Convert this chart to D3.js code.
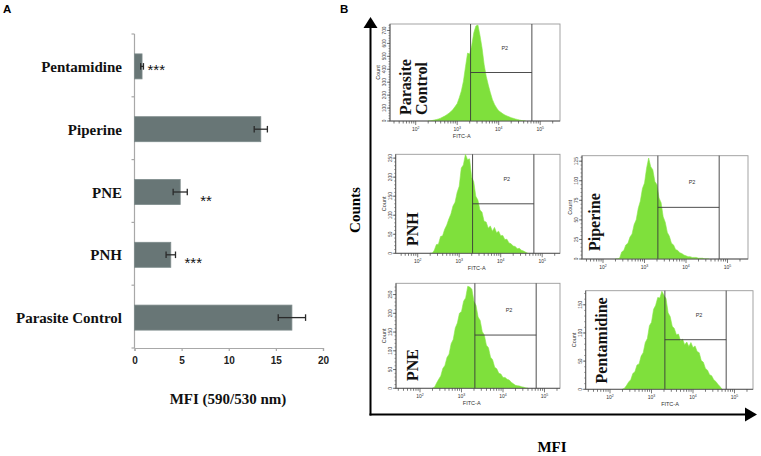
<!DOCTYPE html>
<html><head><meta charset="utf-8">
<script src="https://cdn.jsdelivr.net/npm/d3@7"></script>
<style>body{margin:0;background:#fff}svg{display:block}</style>
</head><body>
<script>
// ---------- Panel A data ----------
const categories = ["Pentamidine", "Piperine", "PNE", "PNH", "Parasite Control"];
const mfiValues = [0.8, 13.4, 4.85, 3.85, 16.7];
const mfiErrors = [0.15, 0.7, 0.75, 0.5, 1.45];
const significance = ["***", "", "**", "***", ""];
const xTicksA = [0, 5, 10, 15, 20];

// ---------- Panel B data ----------
const histNames = [["Parasite", "Control"], ["PNH"], ["Piperine"], ["PNE"], ["Pentamidine"]];
const histLogStart = 2.3, histLogStep = 0.05;
const countsControl = [0,0,4,8,11,16,22,30,38,49,60,73,90,112,135,180,232,308,420,525,518,585,682,735,742,660,562,435,345,278,218,165,128,101,79,68,56,46,39,32,26,21,16,12,8,4,2,0];
const countsPNH = [0,0,8,23,24,44,46,63,74,90,103,124,134,160,176,224,232,260,246,248,200,188,150,140,114,108,84,82,66,72,58,68,54,58,46,47,36,37,27,25,19,18,12,13,8,6,3,0];
const countsPiperine = [0,0,1,9,11,18,20,28,32,44,50,65,74,90,97,116,129,118,114,99,95,78,72,54,47,34,29,20,18,12,11,8,7,5,4,3,3,2,2,2,1,1,1,0,0,0];
const countsPNE = [0,3,14,24,33,53,61,82,91,119,130,161,174,200,205,232,241,272,270,264,232,221,190,181,151,142,115,108,83,76,56,52,40,38,29,29,24,22,16,12,8,7,6,4,3,1,0];
const countsPentamidine = [0,2,7,13,17,28,31,43,45,59,65,83,90,113,119,142,149,163,162,174,167,161,136,129,112,108,97,98,86,89,79,84,76,83,74,77,67,65,51,48,37,34,26,24,17,14,9,5,0];
const histCounts = [countsControl, countsPNH, countsPiperine, countsPNE, countsPentamidine];
const countMax = [750, 260, 132, 280, 175];
const countTicks = [[0,100,200,300,400,500,600,700],[0,50,100,150,200,250],[0,25,50,75,100,125],[0,50,100,150,200,250],[0,50,100,150]];
const gateLow = 2100, gateHigh = 63000;
const gateCount = [375, 130, 66, 142, 88];
const decadeTicks = [100, 1000, 10000, 100000];
const decadeExp = ["2", "3", "4", "5"];
const showFitc = [true, true, false, true, true];

// ---------- layout ----------
const W = 761, H = 456;
const svg = d3.select("body").append("svg").attr("width", W).attr("height", H);
const serif = "'Liberation Serif','Times New Roman',serif";
const sans = "'Liberation Sans',Arial,sans-serif";

// ===== Panel A =====
svg.append("text").attr("x", 3).attr("y", 13).text("A")
  .attr("font-family", sans).attr("font-weight", "bold").attr("font-size", 11.5);

const xA = d3.scaleLinear().domain([0, 20]).range([134.5, 323]);
const yA = d3.scaleBand().domain(categories).range([34, 348]).paddingInner(0.6).paddingOuter(0.3);
const axisCol = "#a8a8a8";
const gA = svg.append("g");

gA.append("line").attr("x1", xA(0)).attr("x2", xA(0)).attr("y1", 34).attr("y2", 348)
  .attr("stroke", axisCol).attr("stroke-width", 1.2);
const bounds = d3.range(categories.length + 1).map(i => 34 + i * (314 / categories.length));
gA.selectAll(".ytk").data(bounds).enter().append("line")
  .attr("x1", xA(0) - 3).attr("x2", xA(0)).attr("y1", d => d).attr("y2", d => d)
  .attr("stroke", axisCol).attr("stroke-width", 1.2);

const xAxisA = d3.axisBottom(xA).tickValues(xTicksA).tickSize(3).tickPadding(6);
const gx = gA.append("g").attr("transform", "translate(0,348)").call(xAxisA);
gx.select(".domain").attr("stroke", axisCol).attr("stroke-width", 1.2);
gx.selectAll(".tick line").attr("stroke", axisCol).attr("stroke-width", 1.2);
gx.selectAll(".tick text").attr("font-family", sans).attr("font-weight", "bold")
  .attr("font-size", 10).attr("fill", "#222");

const barH = 25;
const barY = d => yA(d) + yA.bandwidth() / 2 - barH / 2 + 1;
gA.selectAll(".bar").data(categories).enter().append("rect")
  .attr("x", xA(0)).attr("y", d => barY(d))
  .attr("width", (d, i) => xA(mfiValues[i]) - xA(0)).attr("height", barH)
  .attr("fill", "#687676").attr("stroke", "#7d8a8a").attr("stroke-width", 0.8);

categories.forEach((c, i) => {
  const cy = barY(c) + barH / 2;
  const lo = xA(mfiValues[i] - mfiErrors[i]), hi = xA(mfiValues[i] + mfiErrors[i]);
  const g = gA.append("g").attr("stroke", "#2a2a2a").attr("stroke-width", 1.3);
  g.append("line").attr("x1", lo).attr("x2", hi).attr("y1", cy).attr("y2", cy);
  g.append("line").attr("x1", lo).attr("x2", lo).attr("y1", cy - 3.3).attr("y2", cy + 3.3);
  g.append("line").attr("x1", hi).attr("x2", hi).attr("y1", cy - 3.3).attr("y2", cy + 3.3);
});

const sigGap = [4, 0, 13, 9, 0], sigDy = [0, 0, 5, 5, 0];
categories.forEach((c, i) => {
  if (!significance[i]) return;
  const cy = barY(c) + barH / 2 + sigDy[i];
  gA.append("text").attr("x", xA(mfiValues[i] + mfiErrors[i]) + sigGap[i]).attr("y", cy + 8.5)
    .text(significance[i]).attr("font-family", sans)
    .attr("font-size", 15).attr("fill", "#111");
});

gA.selectAll(".cat").data(categories).enter().append("text")
  .attr("x", 122).attr("y", d => barY(d) + barH / 2 + 5.5).attr("text-anchor", "end")
  .text(d => d).attr("font-family", serif).attr("font-weight", "bold").attr("font-size", 15).attr("fill", "#111");

gA.append("text").attr("x", 228).attr("y", 404).attr("text-anchor", "middle")
  .text("MFI (590/530 nm)").attr("font-family", serif).attr("font-weight", "bold").attr("font-size", 15).attr("fill", "#111");

// ===== Panel B =====
svg.append("text").attr("x", 340).attr("y", 13).text("B")
  .attr("font-family", sans).attr("font-weight", "bold").attr("font-size", 11.5);

const axX = 370.5, axY = 414.5;
svg.append("line").attr("x1", axX).attr("x2", axX).attr("y1", axY + 1).attr("y2", 26)
  .attr("stroke", "#000").attr("stroke-width", 2);
svg.append("path").attr("d", `M${axX - 7},28 L${axX},17 L${axX + 7},28 Z`).attr("fill", "#000");
svg.append("line").attr("x1", axX - 1).attr("x2", 747).attr("y1", axY).attr("y2", axY)
  .attr("stroke", "#000").attr("stroke-width", 2);
svg.append("path").attr("d", `M745,${axY - 7} L757,${axY} L745,${axY + 7} Z`).attr("fill", "#000");
svg.append("text").attr("transform", "translate(360,210) rotate(-90)").attr("text-anchor", "middle")
  .text("Counts").attr("font-family", serif).attr("font-weight", "bold").attr("font-size", 15);
svg.append("text").attr("x", 552).attr("y", 452).attr("text-anchor", "middle")
  .text("MFI").attr("font-family", serif).attr("font-weight", "bold").attr("font-size", 15);

const histLayout = [
  {x0: 390, x1: 560, y0: 24, y1: 121, d2: 415.7, lab: [411, 427], labY: 115, fx: 461.7},
  {x0: 395.7, x1: 560, y0: 154.3, y1: 253.3, d2: 417.7, lab: [417.5], labY: 246, fx: 476.7},
  {x0: 582, x1: 748, y0: 155.7, y1: 259, d2: 603, lab: [600], labY: 251, fx: 0},
  {x0: 396, x1: 560, y0: 283.3, y1: 388.3, d2: 420, lab: [418], labY: 381, fx: 471.7},
  {x0: 585.7, x1: 753, y0: 290.7, y1: 389.3, d2: 610, lab: [607], labY: 383.5, fx: 670}
];
const decPx = 41.5;
const green = "#7fe03c";

histLayout.forEach((L, k) => {
  const g = svg.append("g");
  const x = d3.scaleLog().domain([100, 1000]).range([L.d2, L.d2 + decPx]);
  const y = d3.scaleLinear().domain([0, countMax[k]]).range([L.y1, L.y0]);
  const data = histCounts[k].map((c, i) => ({v: Math.pow(10, histLogStart + i * histLogStep), c}));
  const cid = "clip" + k;
  svg.append("clipPath").attr("id", cid).append("rect")
    .attr("x", L.x0).attr("y", L.y0).attr("width", L.x1 - L.x0).attr("height", L.y1 - L.y0);
  g.append("rect").attr("x", L.x0).attr("y", L.y0).attr("width", L.x1 - L.x0).attr("height", L.y1 - L.y0)
    .attr("fill", "#fff").attr("stroke", "#9a9a9a").attr("stroke-width", 0.9);
  g.append("path").datum(data).attr("clip-path", `url(#${cid})`)
    .attr("d", d3.area().x(d => x(d.v)).y0(y(0)).y1(d => y(d.c)))
    .attr("fill", green).attr("stroke", "#8ae84a").attr("stroke-width", 0.6);
  const gs = "#3a3a3a";
  g.append("line").attr("x1", x(gateLow)).attr("x2", x(gateLow)).attr("y1", L.y0).attr("y2", L.y1).attr("stroke", gs).attr("stroke-width", 0.9);
  g.append("line").attr("x1", x(gateHigh)).attr("x2", x(gateHigh)).attr("y1", L.y0).attr("y2", L.y1).attr("stroke", gs).attr("stroke-width", 0.9);
  g.append("line").attr("x1", x(gateLow)).attr("x2", x(gateHigh)).attr("y1", y(gateCount[k])).attr("y2", y(gateCount[k])).attr("stroke", gs).attr("stroke-width", 0.9);
  g.append("text").attr("x", x(14000)).attr("y", y(countMax[k] * 0.75) + 2).attr("text-anchor", "middle")
    .text("P2").attr("font-family", sans).attr("font-size", 5.5).attr("fill", "#333");
  g.append("line").attr("x1", L.x0).attr("x2", L.x1).attr("y1", L.y1).attr("y2", L.y1).attr("stroke", "#555").attr("stroke-width", 0.9);
  g.append("line").attr("x1", L.x0).attr("x2", L.x0).attr("y1", L.y0).attr("y2", L.y1).attr("stroke", "#555").attr("stroke-width", 0.9);
  const minors = [];
  for (let e = 1; e <= 5; e++) for (let m = 1; m <= 9; m++) {
    const v = m * Math.pow(10, e);
    if (x(v) >= L.x0 + 1 && x(v) <= L.x1 - 1) minors.push({v, major: m === 1});
  }
  g.selectAll(".xt").data(minors).enter().append("line")
    .attr("x1", d => x(d.v)).attr("x2", d => x(d.v)).attr("y1", L.y1).attr("y2", d => L.y1 + (d.major ? 4 : 2.5))
    .attr("stroke", "#444").attr("stroke-width", 0.7);
  decadeTicks.forEach((v, j) => {
    const t = g.append("text").attr("x", x(v)).attr("y", L.y1 + 10).attr("text-anchor", "middle")
      .attr("font-family", sans).attr("font-size", 5).attr("fill", "#333");
    t.append("tspan").text("10");
    t.append("tspan").attr("dy", -2).attr("font-size", 3.5).text(decadeExp[j]);
  });
  if (showFitc[k]) {
    g.append("text").attr("x", L.fx).attr("y", L.y1 + 17).attr("text-anchor", "middle")
      .text("FITC-A").attr("font-family", sans).attr("font-size", 5.5).attr("fill", "#333");
  }
  const yt = countTicks[k];
  const ystep = yt[1] - yt[0];
  const yminor = d3.range(0, countMax[k], ystep / 5);
  g.selectAll(".ym").data(yminor).enter().append("line")
    .attr("x1", L.x0 - 1.5).attr("x2", L.x0).attr("y1", d => y(d)).attr("y2", d => y(d))
    .attr("stroke", "#555").attr("stroke-width", 0.6);
  g.selectAll(".yl").data(yt).enter().append("line")
    .attr("x1", L.x0 - 3).attr("x2", L.x0).attr("y1", d => y(d)).attr("y2", d => y(d))
    .attr("stroke", "#444").attr("stroke-width", 0.7);
  g.selectAll(".ytx").data(yt).enter().append("text")
    .attr("transform", d => `translate(${L.x0 - 4},${y(d)}) rotate(-90)`).attr("text-anchor", "middle")
    .text(d => d).attr("font-family", sans).attr("font-size", 4.8).attr("fill", "#444");
  g.append("text").attr("transform", `translate(${L.x0 - 10},${(L.y0 + L.y1) / 2}) rotate(-90)`).attr("text-anchor", "middle")
    .text("Count").attr("font-family", sans).attr("font-size", 5.5).attr("fill", "#333");
  histNames[k].forEach((s, j) => {
    g.append("text").attr("transform", `translate(${L.lab[j]},${L.labY}) rotate(-90)`)
      .text(s).attr("font-family", serif).attr("font-weight", "bold").attr("font-size", 16).attr("fill", "#111");
  });
});
</script>
</body></html>
